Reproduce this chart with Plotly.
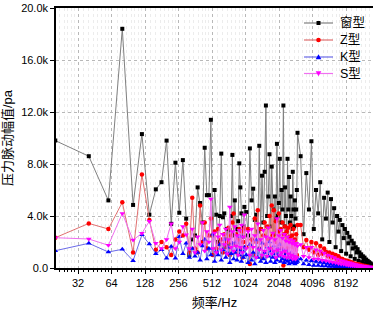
import plotly.graph_objects as go

# ---- frequency grid (Hz) ----
freq_lo = list(range(20, 1001, 20))
freq_mid = list(range(1040, 3001, 40))
freq_hi = list(range(3200, 14001, 200))
freq = freq_lo + freq_mid + freq_hi

# ---- amplitudes (k pa) ----
win_lo = [9.8, 8.6, 5.2, 18.4, 4.85, 10.3, 4.1, 6.05, 6.6, 9.8,
          3.4, 8.1, 4.25, 8.3, 3.8, 1.0, 2.2, 2.5, 6.2, 5.0,
          3.5, 9.25, 5.6, 5.6, 11.4, 2.5, 6.0, 4.1, 2.0, 4.0,
          8.8, 3.9, 4.2, 2.2, 3.0, 1.8, 2.9, 4.0, 8.7, 2.5,
          5.2, 3.0, 2.0, 3.6, 8.05, 6.2, 4.2, 2.4, 3.2, 4.7]
win_mid = [4.3, 2.5, 9.2, 5.2, 6.1, 3.7, 4.1, 2.8, 9.4, 3.0,
           7.1, 3.5, 7.4, 12.5, 4.0, 5.5, 8.75, 3.2, 7.8, 4.5,
           2.6, 5.5, 3.8, 9.55, 4.0, 5.0, 8.4, 3.5, 6.0, 4.5,
           12.5, 3.2, 6.2, 4.0, 2.8, 8.4, 4.5, 7.0, 3.5, 5.5,
           4.0, 3.0, 7.4, 4.5, 3.2, 5.2, 3.8, 4.5, 6.0, 10.4]
win_hi = [8.6, 2.6, 7.3, 4.5, 9.75, 3.0, 6.0, 4.2, 6.6, 2.2,
          5.4, 3.8, 5.8, 2.0, 5.3, 3.5, 4.6, 1.6, 4.0, 2.8,
          3.7, 1.3, 3.3, 2.3, 3.0, 1.1, 2.7, 1.9, 2.4, 0.9,
          2.1, 1.5, 1.9, 0.7, 1.6, 1.2, 1.45, 0.55, 1.2, 0.9,
          1.05, 0.45, 0.9, 0.65, 0.8, 0.35, 0.65, 0.5, 0.55, 0.25,
          0.45, 0.35, 0.35, 0.2, 0.28]

z_lo = [2.33, 3.43, 3.0, 5.05, 1.2, 7.2, 3.7, 1.4, 2.0, 1.6,
        1.0, 2.2, 2.8, 2.5, 3.4, 1.2, 5.4, 1.5, 1.2, 4.8,
        2.0, 3.5, 1.5, 2.5, 3.8, 1.0, 2.8, 1.5, 3.0, 1.8,
        2.2, 1.2, 2.6, 1.6, 2.0, 3.1, 1.0, 2.5, 3.5, 4.2,
        1.8, 2.6, 1.2, 2.2, 3.0, 1.5, 2.8, 0.8, 2.0, 3.05]
z_mid = [1.6, 3.0, 0.3, 2.2, 1.0, 3.8, 2.0, 4.45, 1.5, 3.0,
         0.8, 2.5, 3.5, 1.8, 3.2, 2.2, 4.0, 1.5, 4.8, 2.5,
         4.45, 2.0, 3.6, 1.2, 2.8, 4.2, 1.8, 3.0, 1.5, 3.5,
         0.2, 2.6, 3.2, 1.2, 2.8, 1.5, 3.1, 0.8, 2.4, 3.3,
         1.0, 2.5, 1.6, 3.0, 0.8, 2.2, 1.4, 2.6, 1.0, 3.3]
z_hi = [3.3, 1.6, 2.15, 1.4, 2.0, 1.2, 1.9, 1.0, 1.7, 1.1,
        1.5, 1.25, 0.9, 1.2, 0.8, 1.1, 0.75, 1.0, 0.6, 0.9,
        0.75, 0.5, 0.7, 0.45, 0.6, 0.4, 0.55, 0.35, 0.5, 0.3,
        0.45, 0.36, 0.25, 0.35, 0.2, 0.3, 0.18, 0.28, 0.15, 0.25,
        0.12, 0.2, 0.1, 0.18, 0.08, 0.15, 0.06, 0.12, 0.05, 0.1,
        0.04, 0.08, 0.03, 0.06, 0.03]

k_lo = [1.33, 1.9, 1.23, 1.44, 0.56, 2.55, 1.85, 1.1, 1.4, 0.75,
        1.65, 0.75, 2.4, 1.1, 1.9, 0.8, 1.5, 0.9, 1.2, 0.6,
        1.7, 2.2, 0.7, 1.5, 1.0, 2.6, 0.5, 1.3, 1.0, 1.8,
        0.6, 1.4, 2.2, 0.8, 1.2, 1.6, 0.4, 1.1, 1.9, 0.7,
        1.2, 2.0, 0.6, 1.4, 1.0, 2.4, 0.5, 1.3, 0.8, 1.6]
k_mid = [1.0, 0.4, 1.8, 0.6, 1.2, 0.3, 2.15, 0.8, 1.5, 0.5,
         1.9, 0.7, 1.2, 0.4, 1.6, 0.9, 2.0, 0.5, 1.3, 0.8,
         1.7, 0.4, 1.1, 0.6, 1.5, 0.9, 1.8, 0.5, 1.2, 0.7,
         1.4, 0.4, 1.0, 0.6, 1.3, 0.5, 1.1, 0.3, 0.9, 0.6,
         1.2, 0.4, 0.8, 0.5, 1.0, 0.3, 0.7, 0.4, 0.8, 0.5]
k_hi = [0.7, 0.3, 0.6, 0.25, 0.55, 0.2, 0.5, 0.2, 0.45, 0.15,
        0.4, 0.15, 0.35, 0.12, 0.3, 0.12, 0.28, 0.1, 0.25, 0.1,
        0.22, 0.08, 0.2, 0.08, 0.18, 0.07, 0.16, 0.06, 0.14, 0.05,
        0.12, 0.05, 0.1, 0.04, 0.09, 0.04, 0.08, 0.03, 0.07, 0.03,
        0.06, 0.03, 0.05, 0.02, 0.05, 0.02, 0.04, 0.02, 0.03, 0.02,
        0.03, 0.01, 0.02, 0.01, 0.02]

s_lo = [2.33, 2.23, 1.75, 4.2, 2.15, 2.67, 3.6, 1.9, 1.5, 2.2,
        3.4, 1.5, 2.0, 3.2, 2.55, 1.5, 3.0, 1.2, 2.4, 1.8,
        3.5, 1.3, 2.8, 2.0, 5.3, 1.5, 2.7, 1.2, 2.4, 3.3,
        1.4, 2.6, 1.8, 3.0, 1.1, 2.2, 4.7, 1.6, 2.8, 1.3,
        3.2, 1.7, 2.5, 1.0, 2.9, 1.6, 3.3, 1.2, 2.4, 4.1]
s_mid = [1.5, 2.8, 1.0, 3.0, 1.6, 2.5, 0.8, 3.4, 1.4, 2.2,
         1.0, 2.9, 1.3, 2.4, 0.9, 3.1, 1.5, 2.3, 1.1, 2.7,
         1.3, 2.2, 0.8, 3.8, 1.4, 2.5, 1.0, 2.9, 1.2, 2.3,
         0.9, 2.6, 1.3, 2.1, 0.8, 2.4, 1.1, 2.0, 0.8, 2.2,
         1.0, 1.9, 0.7, 2.1, 0.9, 1.8, 0.7, 1.9, 0.8, 1.7]
s_hi = [1.8, 0.9, 1.6, 0.8, 1.6, 0.7, 1.4, 0.7, 1.3, 0.6,
        1.15, 0.55, 1.0, 0.5, 0.9, 0.45, 0.8, 0.4, 0.7, 0.35,
        0.62, 0.3, 0.55, 0.28, 0.5, 0.25, 0.45, 0.22, 0.4, 0.2,
        0.35, 0.18, 0.3, 0.15, 0.27, 0.13, 0.24, 0.11, 0.2, 0.1,
        0.18, 0.08, 0.15, 0.07, 0.13, 0.06, 0.11, 0.05, 0.09, 0.04,
        0.08, 0.03, 0.06, 0.03, 0.05]

names = ["窗型", "Z型", "K型", "S型"]
x_ticks = [32, 64, 128, 256, 512, 1024, 2048, 4096, 8192]
y_ticks = [0, 4000, 8000, 12000, 16000, 20000]
y_tick_text = ["0.0", "4.0k", "8.0k", "12.0k", "16.0k", "20.0k"]

series = [
    (names[0], win_lo + win_mid + win_hi, "#808080", "#000000", "square", 4),
    (names[1], z_lo + z_mid + z_hi, "#e07070", "#ff0000", "circle", 4.5),
    (names[2], k_lo + k_mid + k_hi, "#6a6ae8", "#0000ff", "triangle-up", 5),
    (names[3], s_lo + s_mid + s_hi, "#f070f0", "#ff00ff", "triangle-down", 5),
]

fig = go.Figure()
for name, vals, lc, mc, sym, ms in series:
    fig.add_trace(go.Scatter(
        x=freq, y=[v * 1000 for v in vals], name=name, mode="lines+markers",
        line=dict(color=lc, width=1), showlegend=False,
        marker=dict(color=mc, symbol=sym, size=ms, line=dict(width=0)),
    ))

minor_vals = []
for p in range(4, 14):
    base = 2 ** p
    for k in range(1, 8):
        minor_vals.append(base * (1 + k / 8))

# ---- hand-drawn legend (page pixels -> paper coords) ----
PL, PR, PT, PB = 56, 373, 8, 268
def px(x):
    return (x - PL) / (PR - PL)
def py(y):
    return (PB - y) / (PB - PT)

shapes = []
annotations = []
leg_y = [23, 40, 57, 73.5]
for (name, vals, lc, mc, sym, ms), yy in zip(series, leg_y):
    shapes.append(dict(type="line", xref="paper", yref="paper",
                       x0=px(304), x1=px(333), y0=py(yy), y1=py(yy),
                       line=dict(color=lc, width=1.2)))
    cx = 318.5
    if sym == "square":
        shapes.append(dict(type="rect", xref="paper", yref="paper",
                           x0=px(cx - 2), x1=px(cx + 2), y0=py(yy + 2), y1=py(yy - 2),
                           fillcolor=mc, line=dict(width=0)))
    elif sym == "circle":
        shapes.append(dict(type="circle", xref="paper", yref="paper",
                           x0=px(cx - 2.3), x1=px(cx + 2.3), y0=py(yy + 2.3), y1=py(yy - 2.3),
                           fillcolor=mc, line=dict(width=0)))
    else:
        if sym == "triangle-up":
            pts = [(cx, yy - 2.8), (cx - 2.8, yy + 2.2), (cx + 2.8, yy + 2.2)]
        else:
            pts = [(cx, yy + 2.8), (cx - 2.8, yy - 2.2), (cx + 2.8, yy - 2.2)]
        path = "M {},{} L {},{} L {},{} Z".format(
            px(pts[0][0]), py(pts[0][1]), px(pts[1][0]), py(pts[1][1]),
            px(pts[2][0]), py(pts[2][1]))
        shapes.append(dict(type="path", xref="paper", yref="paper", path=path,
                           fillcolor=mc, line=dict(width=0)))
    annotations.append(dict(text=name, xref="paper", yref="paper",
                            x=px(338), y=py(yy), xanchor="left", yanchor="middle",
                            showarrow=False, font=dict(size=12.5, color="black")))

font_main = "Liberation Sans, Arial, Noto Sans CJK SC, sans-serif"
fig.update_layout(
    width=373, height=311,
    margin=dict(l=56, r=0, t=8, b=43),
    paper_bgcolor="white", plot_bgcolor="white",
    font=dict(family=font_main, size=11, color="black"),
    showlegend=False,
    shapes=shapes,
    annotations=annotations,
    xaxis=dict(
        type="log", range=[1.3075, 4.1553],
        tickvals=x_ticks, ticktext=[str(t) for t in x_ticks],
        showline=True, linecolor="black", linewidth=1.5, mirror=True,
        ticks="outside", ticklen=4, tickcolor="black",
        showgrid=True, gridcolor="#b8b8b8", griddash="dot", gridwidth=1,
        minor=dict(tickmode="array", tickvals=minor_vals, ticks="outside",
                   ticklen=2, tickcolor="black", showgrid=True,
                   gridcolor="#ececec", griddash="dot"),
        title=dict(text="频率/Hz", font=dict(size=13), standoff=10),
        tickfont=dict(size=11),
        zeroline=False,
    ),
    yaxis=dict(
        range=[0, 20000], tickvals=y_ticks, ticktext=y_tick_text,
        showline=True, linecolor="black", linewidth=1.5, mirror=False,
        ticks="outside", ticklen=4, tickcolor="black",
        showgrid=True, gridcolor="#b8b8b8", griddash="dot", gridwidth=1,
        title=dict(text="压力脉动幅值/pa", font=dict(size=13), standoff=6),
        tickfont=dict(size=11),
        zeroline=False,
    ),
)

fig.write_html("out.html", config={"displayModeBar": False},
               post_script="document.body.style.margin='0px';")
